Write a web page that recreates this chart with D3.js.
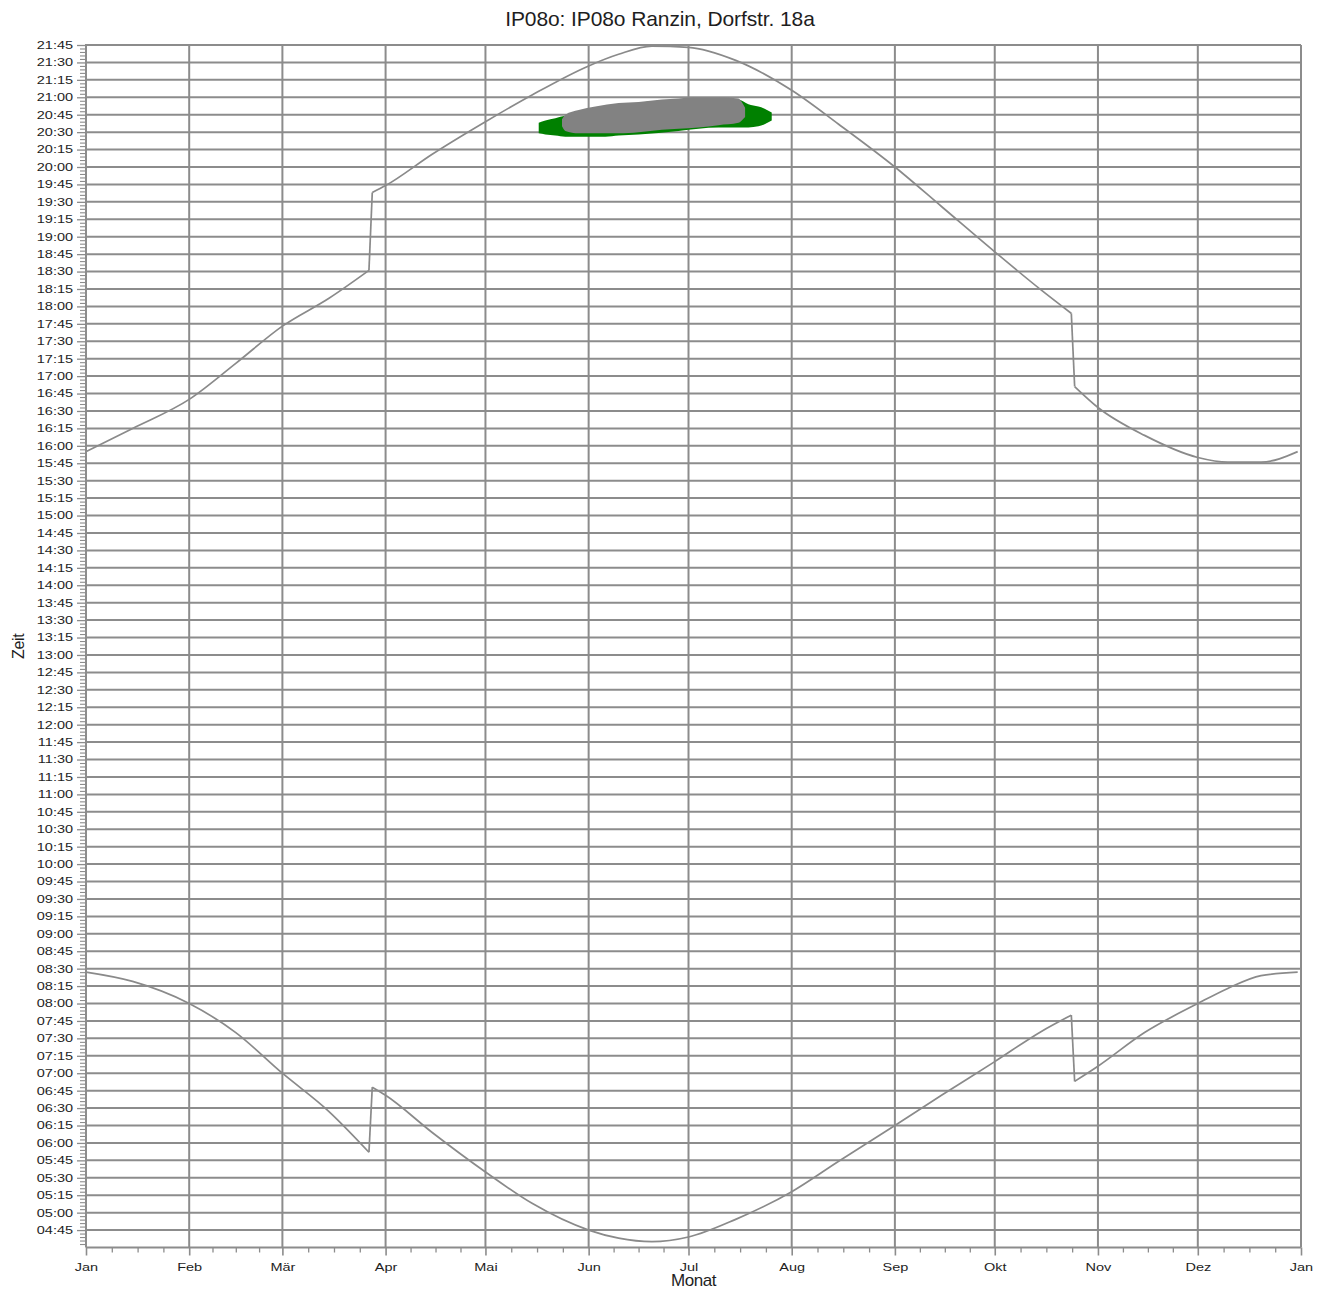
<!DOCTYPE html>
<html><head><meta charset="utf-8">
<script src="https://cdn.jsdelivr.net/npm/d3@7"></script>
<style>
body{margin:0;background:#fff;}
svg text{font-family:"Liberation Sans",Arial,sans-serif;fill:#1e1e1e;}
</style></head><body>
<svg id="chart" width="1326" height="1290"></svg>
<script>
const chartTitle = "IP08o: IP08o Ranzin, Dorfstr. 18a";
const xTitle = "Monat";
const yTitle = "Zeit";
const year = 2023;
const monthLabels = ["Jan","Feb","Mär","Apr","Mai","Jun","Jul","Aug","Sep","Okt","Nov","Dez","Jan"];

// Sunset / sunrise lines (local time, with DST jumps)
const curveDates   = ["01-01","01-15","02-01","02-15","03-01","03-15","03-27","03-28","04-01","04-15","05-01","05-15","06-01","06-10","06-20","07-01","07-15","08-01","08-15","09-01","09-15","10-01","10-15","10-24","10-25","11-01","11-15","12-01","12-10","12-20","12-31"];
const sunsetTimes  = ["15:55","16:15","16:40","17:11","17:43","18:07","18:31","19:38","19:44","20:11","20:39","21:02","21:27","21:37","21:44","21:43","21:32","21:06","20:37","20:00","19:26","18:47","18:14","17:54","16:51","16:33","16:09","15:50","15:46","15:46","15:55"];
const sunriseTimes = ["08:27","08:19","08:00","07:35","07:00","06:27","05:52","06:48","06:41","06:09","05:35","05:08","04:45","04:38","04:35","04:39","04:54","05:18","05:44","06:15","06:41","07:10","07:36","07:50","06:53","07:06","07:35","08:00","08:13","08:24","08:27"];

// Shadow periods: outer (green) and inner (gray)
const greenDates = ["05-17","05-19","05-22","05-25","05-31","06-06","06-10","06-16","06-28","07-04","07-10","07-16","07-19","07-22","07-24","07-26"];
const greenFrom  = ["20:29","20:28","20:27","20:26","20:26","20:26","20:27","20:28","20:31","20:33","20:34","20:34","20:34","20:35","20:37","20:40"];
const greenTo    = ["20:38","20:40","20:42","20:44","20:46","20:49","20:51","20:55","20:58","20:59","20:59","20:58","20:54","20:52","20:50","20:47"];
const grayDates  = ["05-24","05-25","05-29","06-03","06-10","06-16","06-23","06-28","07-04","07-10","07-16","07-17","07-18"];
const grayFrom   = ["20:35","20:31","20:29","20:29","20:29","20:30","20:32","20:33","20:34","20:36","20:38","20:40","20:43"];
const grayTo     = ["20:41","20:45","20:49","20:52","20:55","20:56","20:58","20:59","21:00","21:00","20:59","20:56","20:51"];

const yMin = "04:30", yMax = "21:45";

const parseDate = d3.timeParse("%Y-%m-%d");
const toDate = s => parseDate(year + "-" + s);
const toMin = s => { const [h, m] = s.split(":").map(Number); return h * 60 + m; };
const fmtMin = m => String(Math.floor(m / 60)).padStart(2, "0") + ":" + String(m % 60).padStart(2, "0");

const L = 86, R = 1301, T = 45, B = 1247.5;
const svg = d3.select("#chart");
const x = d3.scaleTime().domain([new Date(year, 0, 1), new Date(year + 1, 0, 1)]).range([L, R]);
const y = d3.scaleLinear().domain([toMin(yMin), toMin(yMax)]).range([B, T]);

const gridColor = "#8c8c8c";
const months = d3.timeMonth.range(new Date(year, 0, 1), new Date(year + 1, 0, 2));
const majorY = d3.range(toMin(yMin) + 15, toMin(yMax) + 1, 15);
const minorY = d3.range(toMin(yMin), toMin(yMax) + 1, 3).filter(v => v % 15 !== 0);

// gridlines
const grid = svg.append("g");
grid.selectAll("line.h").data(majorY).join("line")
  .attr("x1", L).attr("x2", R).attr("y1", d => y(d)).attr("y2", d => y(d))
  .attr("stroke", gridColor).attr("stroke-width", 2);
grid.selectAll("line.v").data(months.slice(1)).join("line")
  .attr("x1", d => x(d)).attr("x2", d => x(d)).attr("y1", T).attr("y2", B)
  .attr("stroke", gridColor).attr("stroke-width", 2);

// shadow areas
function band(dates, from, to) {
  return dates.map((d, i) => ({ date: toDate(d), lo: toMin(from[i]), hi: toMin(to[i]) }));
}
const area = d3.area().x(d => x(d.date)).y0(d => y(d.lo)).y1(d => y(d.hi)).curve(d3.curveMonotoneX);
svg.append("path").datum(band(greenDates, greenFrom, greenTo)).attr("d", area).attr("fill", "#008000");
svg.append("path").datum(band(grayDates, grayFrom, grayTo)).attr("d", area).attr("fill", "#828282");

// sunrise / sunset lines: smooth pieces, straight DST jumps
const smooth = d3.line().x(d => x(d.date)).y(d => y(d.t)).curve(d3.curveMonotoneX);
const straight = d3.line().x(d => x(d.date)).y(d => y(d.t));
const DAY = 864e5;
[sunsetTimes, sunriseTimes].forEach(times => {
  const data = curveDates.map((d, i) => ({ date: toDate(d), t: toMin(times[i]) }));
  const pieces = [[data[0]]];
  for (let i = 1; i < data.length; i++) {
    if (data[i].date - data[i - 1].date <= DAY * 1.5) {
      const prev = data[i - 1];
      svg.append("path").datum([prev, data[i]]).attr("d", straight)
        .attr("fill", "none").attr("stroke", "#8a8a8a").attr("stroke-width", 1.7);
      pieces.push([data[i]]);
    } else pieces[pieces.length - 1].push(data[i]);
  }
  pieces.forEach(p => svg.append("path").datum(p).attr("d", smooth)
    .attr("fill", "none").attr("stroke", "#8a8a8a").attr("stroke-width", 1.7)
    .attr("stroke-linejoin", "round"));
});

// y axis
const yAxisG = svg.append("g").attr("transform", `translate(${L},0)`);
yAxisG.call(d3.axisLeft(y).tickValues(majorY).tickFormat(fmtMin).tickSize(9).tickPadding(4))
  .call(g => g.select(".domain").remove());
yAxisG.selectAll(".tick line").attr("stroke", gridColor).attr("stroke-width", 1.3);
yAxisG.selectAll(".tick text")
  .attr("font-size", 10.5).attr("font-family", "Liberation Sans, Arial, sans-serif")
  .attr("x", -13 / 1.38).attr("transform", "scale(1.38,1)").attr("fill", "#1e1e1e");
const yMinorG = svg.append("g").attr("transform", `translate(${L},0)`);
yMinorG.call(d3.axisLeft(y).tickValues(minorY).tickFormat("").tickSize(6))
  .call(g => g.select(".domain").remove());
yMinorG.selectAll(".tick line").attr("stroke", gridColor).attr("stroke-width", 1.1);
svg.append("line").attr("x1", L).attr("x2", L).attr("y1", T - 1).attr("y2", B)
  .attr("stroke", gridColor).attr("stroke-width", 2);

// x axis
const xAxisG = svg.append("g").attr("transform", `translate(0,${B})`);
xAxisG.call(d3.axisBottom(x).tickValues(months).tickFormat((d, i) => monthLabels[i]).tickSize(8).tickPadding(8))
  .call(g => g.select(".domain").remove());
xAxisG.selectAll(".tick line").attr("stroke", gridColor).attr("stroke-width", 1.6);
xAxisG.selectAll(".tick text")
  .attr("font-size", 10.5).attr("font-family", "Liberation Sans, Arial, sans-serif")
  .attr("transform", "scale(1.38,1)").attr("x", 0).attr("fill", "#1e1e1e");
const minorX = [];
months.slice(0, -1).forEach((m, i) => {
  const a = +m, b = +months[i + 1];
  [0.25, 0.5, 0.75].forEach(f => minorX.push(new Date(a + (b - a) * f)));
});
const xMinorG = svg.append("g").attr("transform", `translate(0,${B})`);
xMinorG.call(d3.axisBottom(x).tickValues(minorX).tickFormat("").tickSize(5))
  .call(g => g.select(".domain").remove());
xMinorG.selectAll(".tick line").attr("stroke", gridColor).attr("stroke-width", 1.3);
svg.append("line").attr("x1", L).attr("x2", R).attr("y1", B).attr("y2", B)
  .attr("stroke", gridColor).attr("stroke-width", 2);

// titles
svg.append("text").attr("x", 660).attr("y", 26).attr("text-anchor", "middle")
  .attr("font-size", 21).attr("letter-spacing", -0.1).text(chartTitle);
svg.append("text").attr("x", (L + R) / 2).attr("y", 1286).attr("text-anchor", "middle")
  .attr("font-size", 17).attr("letter-spacing", -0.4).text(xTitle);
svg.append("text").attr("transform", `translate(24,${(T + B) / 2}) rotate(-90)`).attr("text-anchor", "middle")
  .attr("font-size", 16).attr("letter-spacing", -0.3).text(yTitle);
</script>
</body></html>
